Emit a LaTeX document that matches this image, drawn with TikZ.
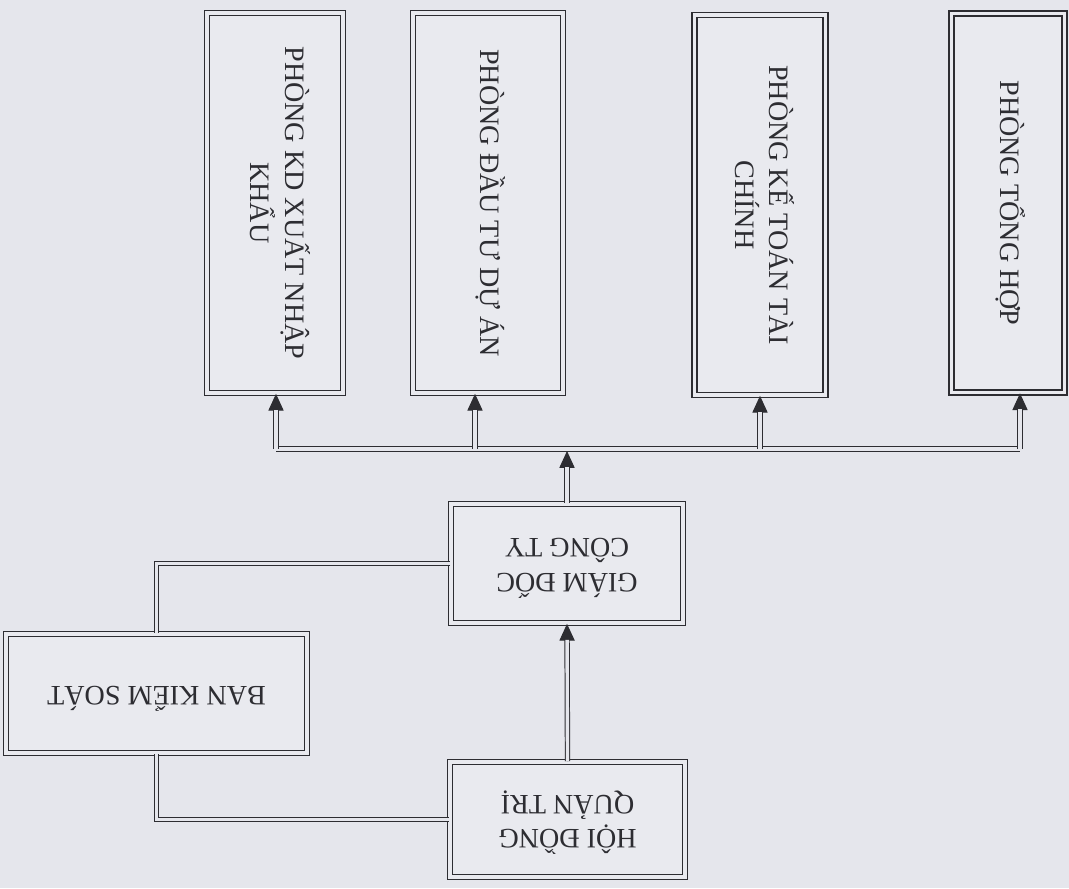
\documentclass[tikz,border=0pt]{standalone}
\usepackage{fontspec}
\setmainfont{Liberation Serif}
\usepackage{graphicx}
\usetikzlibrary{arrows.meta}

\definecolor{paper}{RGB}{229,230,236}
\definecolor{boxfill}{RGB}{233,234,239}
\definecolor{ink}{RGB}{45,45,50}

\newcommand{\vtext}[1]{\rotatebox{-90}{\begin{tabular}{c}#1\end{tabular}}}
\newcommand{\utext}[1]{\rotatebox{180}{\begin{tabular}{c}#1\end{tabular}}}

\begin{document}
\begin{tikzpicture}[x=0.25mm,y=-0.25mm,
  box/.style={draw=ink,line width=1.1pt,double=boxfill,double distance=2.2pt,
    fill=boxfill,inner sep=0pt,text=ink,font=\fontsize{20}{24}\selectfont},
  wire/.style={draw=ink,line width=0.7pt,double=paper,double distance=2.4pt},
  head/.style={draw=ink,line width=0.7pt,-{Triangle[length=4.2mm,width=3.8mm]}}]
\useasboundingbox (0,0) rectangle (1069,888);
\fill[paper] (0,0) rectangle (1069,888);

% phong ban
\node[box,minimum width=34mm,minimum height=95mm] (b1) at (275,203) {\vtext{PHÒNG KD XUẤT NHẬP\\KHẨU}};
\node[box,minimum width=37.5mm,minimum height=95mm] (b2) at (488,203) {\vtext{PHÒNG ĐẦU TƯ DỰ ÁN}};
\node[box,minimum width=32.75mm,minimum height=95mm] (b3) at (760,205) {\vtext{PHÒNG KẾ TOÁN TÀI\\CHÍNH}};
\node[box,minimum width=28.25mm,minimum height=94.75mm] (b4) at (1008,203) {\vtext{PHÒNG TỔNG HỢP}};

% lanh dao
\node[box,minimum width=58mm,minimum height=29.75mm] (gd) at (567,563.5) {\utext{GIÁM ĐỐC\\CÔNG TY}};
\node[box,minimum width=58.75mm,minimum height=28.75mm] (hd) at (567.5,819.5) {\utext{HỘI ĐỒNG\\QUẢN TRỊ}};
\node[box,minimum width=75.25mm,minimum height=29.75mm] (bks) at (156.5,693.5) {\utext{BAN KIỂM SOÁT}};

% thanh ngang
\coordinate (t1) at (276,449);
\coordinate (t2) at (475,449);
\coordinate (t3) at (760,449);
\coordinate (t4) at (1020,449);
\coordinate (bus) at (567,451);

\draw[head] (t1) -- (t1 |- b1.south);
\draw[head] (t2) -- (t2 |- b2.south);
\draw[head] (t3) -- (t3 |- b3.south);
\draw[head] (t4) -- (t4 |- b4.south);
\draw[head] (gd.north) -- (bus);
\draw[head] (hd.north) -- (gd.south);

\draw[wire] (t1) -- (t4);
\draw[wire,shorten >=4mm] (t1) -- (t1 |- b1.south);
\draw[wire,shorten >=4mm] (t2) -- (t2 |- b2.south);
\draw[wire,shorten >=4mm] (t3) -- (t3 |- b3.south);
\draw[wire,shorten >=4mm] (t4) -- (t4 |- b4.south);
\draw[wire,shorten >=4mm] (gd.north) -- (bus);
\draw[wire,shorten >=4mm] (hd.north) -- (gd.south);

% ban kiem soat
\draw[wire] (gd.west) -| (bks.north);
\draw[wire] (bks.south) |- (hd.west);
\end{tikzpicture}
\end{document}
